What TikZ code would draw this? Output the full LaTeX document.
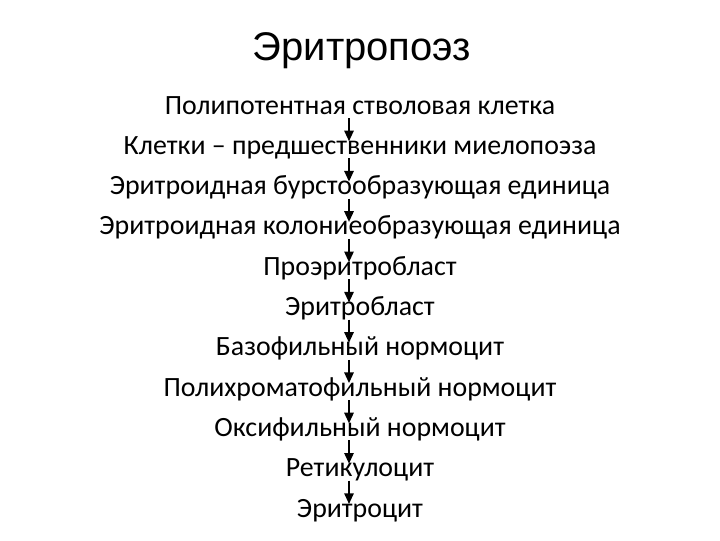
\documentclass[tikz,border=0pt]{standalone}
\usepackage{fontspec}
\setmainfont{Carlito}
\newfontfamily\titlefont{Liberation Sans}
\usetikzlibrary{arrows.meta}
\begin{document}
\begin{tikzpicture}[x=0.75pt,y=-0.75pt,
  lbl/.style={anchor=base,inner sep=0pt,font=\fontsize{20.9pt}{22pt}\selectfont},
  ttl/.style={anchor=base,inner sep=0pt,font=\titlefont\fontsize{30pt}{34pt}\selectfont},
  arr/.style={line width=1.3pt,-{Triangle[length=8pt,width=7pt]}}]
\useasboundingbox (0,0) rectangle (720,540);
\node[ttl] (t) at (362,60) {Эритропоэз};
\foreach \i/\txt in {0/Полипотентная стволовая клетка,
  1/Клетки – предшественники миелопоэза,
  2/Эритроидная бурстообразующая единица,
  3/Эритроидная колониеобразующая единица,
  4/Проэритробласт,
  5/Эритробласт,
  6/Базофильный нормоцит,
  7/Полихроматофильный нормоцит,
  8/Оксифильный нормоцит,
  9/Ретикулоцит,
  10/Эритроцит}{
  \node[lbl] (l\i) at (360,{114+40.3*\i}) {\txt};
}
\foreach \i [evaluate=\i as \j using int(\i+1)] in {0,...,9}{
  \draw[arr] ([shift={(-11,4)}]l\i.base) -- ([shift={(-11,-13)}]l\j.base);
}
\end{tikzpicture}
\end{document}
